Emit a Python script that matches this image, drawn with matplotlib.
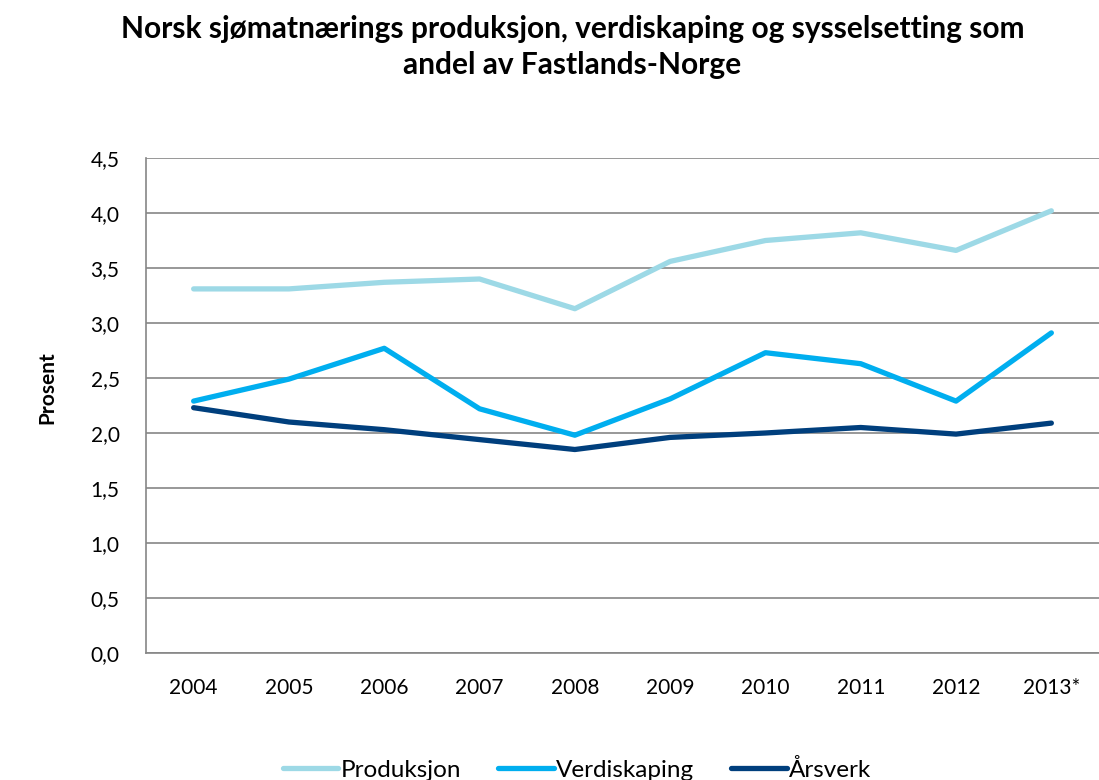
import matplotlib
matplotlib.use("Agg")
import matplotlib.pyplot as plt

plt.rcParams['font.family'] = ['Lato', 'DejaVu Sans']

years = ['2004', '2005', '2006', '2007', '2008', '2009', '2010', '2011', '2012', '2013*']
produksjon = [3.31, 3.31, 3.37, 3.40, 3.13, 3.56, 3.75, 3.82, 3.66, 4.02]
verdiskaping = [2.29, 2.49, 2.77, 2.22, 1.98, 2.31, 2.73, 2.63, 2.29, 2.91]
arsverk = [2.23, 2.10, 2.03, 1.94, 1.85, 1.96, 2.00, 2.05, 1.99, 2.09]
yticks = [0.0, 0.5, 1.0, 1.5, 2.0, 2.5, 3.0, 3.5, 4.0, 4.5]

fig = plt.figure(figsize=(10.99, 7.8), dpi=100)
ax = fig.add_axes([146 / 1099, 1 - 653 / 780, 1 - 146 / 1099, (653 - 158) / 780])

x = range(len(years))
ax.plot(x, produksjon, color='#9dd9e6', lw=3.8, solid_capstyle='round', label='Produksjon')
ax.plot(x, verdiskaping, color='#00aeef', lw=3.8, solid_capstyle='round', label='Verdiskaping')
ax.plot(x, arsverk, color='#003f7d', lw=3.8, solid_capstyle='round', label='Årsverk')

ax.set_xlim(-0.5, len(years) - 0.5)
ax.set_ylim(0, 4.5)
ax.set_yticks(yticks)
ax.set_yticklabels([('%.1f' % v).replace('.', ',') for v in yticks])
ax.set_xticks(list(x))
ax.set_xticklabels(years)
ax.tick_params(length=0, labelsize=15, colors='black')
ax.tick_params(axis='y', pad=19)
ax.tick_params(axis='x', pad=18)
ax.grid(axis='y', color='#868686', lw=1.2)
ax.set_axisbelow(True)
for s in ['top', 'right']:
    ax.spines[s].set_visible(False)
for s in ['left', 'bottom']:
    ax.spines[s].set_color('#868686')
    ax.spines[s].set_linewidth(1.2)

fig.text(47 / 1099, 1 - 388 / 780, 'Prosent', rotation=90, fontsize=15, fontweight='bold',
         ha='center', va='center')
fig.suptitle('Norsk sjømatnærings produksjon, verdiskaping og sysselsetting som\nandel av Fastlands-Norge',
             x=0.521, y=1 - 15 / 780, fontsize=21.5, fontweight='bold', linespacing=1.35, va='top')

fig.legend(loc='center', bbox_to_anchor=(0.525, 1 - 770 / 780), ncol=3, frameon=False,
           fontsize=17.5, handlelength=2.3, handletextpad=0.1, columnspacing=1.5)

fig.savefig('out.png', dpi=100)
